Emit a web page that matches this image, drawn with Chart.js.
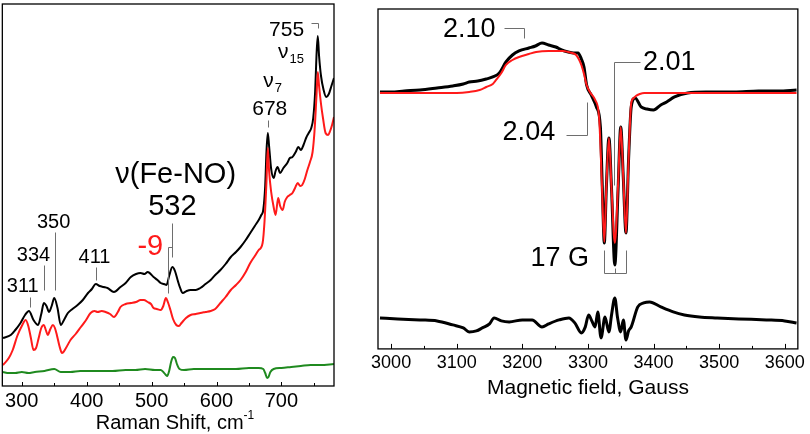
<!DOCTYPE html>
<html>
<head>
<meta charset="utf-8">
<script src="https://cdn.jsdelivr.net/npm/chart.js@4.4.0/dist/chart.umd.min.js"></script>
<style>
  body { margin:0; background:#fff; }
  #wrap { position:relative; width:810px; height:434px; }
  #raman { position:absolute; left:0; top:0; }
  #epr { position:absolute; left:360px; top:0; }
</style>
</head>
<body>
<div id="wrap">
  <canvas id="raman" width="340" height="434"></canvas>
  <canvas id="epr" width="450" height="434"></canvas>
</div>
<script>
const FONT = "'Liberation Sans', Arial, sans-serif";

// Raman panel (intensity in arbitrary units)
const ramanTicks = [300, 400, 500, 600, 700];
const ramanMinor = [350, 450, 550, 650, 750];

const blackShift = [271,283,290,298,305,311,318,325,330,334,338,342,346,350,355,360,365,371,378,386,394,402,408,414,420,426,432,442,452,460,468,476,483,489,494,503,509,514,519,523,527,532,536,540,544,548,554,560,568,575,583,591,598,606,614,622,630,637,645,652,659,665,669,672,675,677,679,681,684,688,691,694,698,703,709,713,717,722,726,730,734,738,742,746,749,752,754,756,758,761,765,769,773,777,781];
const blackInt   = [48,51,56,63,71,75,66,61,72,83,80,74,80,88,78,61,66,73,77,81,86,93,97,102,100,99,98,94,99,103,109,112,113,112,114,109,106,103,102,101,110,119,115,106,98,93,95,96,96,98,102,106,111,116,122,129,134,139,146,153,160,166,171,176,200,235,253,240,218,208,215,219,213,218,223,228,229,234,239,236,241,248,253,258,268,295,330,350,330,310,296,289,292,300,308];

const redShift = [271,280,286,293,300,306,310,314,318,322,326,330,334,337,340,344,348,351,354,358,362,368,375,383,391,398,406,412,417,423,429,436,442,448,452,460,468,476,483,488,494,499,503,508,514,518,522,525,529,533,538,542,546,553,560,568,575,583,591,598,606,614,622,630,637,645,652,659,665,671,674,677,679,681,684,688,691,695,698,702,705,709,713,717,721,725,729,732,736,740,744,748,751,754,756,758,761,764,768,772,775,778,781];
const redInt   = [21,28,36,50,60,66,60,48,36,38,48,58,61,56,51,57,61,58,51,40,33,38,46,52,59,65,73,75,74,75,74,72,69,74,79,82,83,84,86,86,84,82,78,77,76,80,88,84,76,67,61,60,63,68,71,72,73,74,75,77,83,89,96,101,106,114,123,130,136,143,165,205,238,215,195,179,171,188,180,176,184,189,191,193,198,203,200,201,207,216,224,234,255,290,314,300,282,268,253,251,255,261,269];

const greenShift = [271,280,290,300,310,320,335,350,360,375,390,405,420,440,460,475,490,505,514,518,522,524,527,530,533,536,539,543,550,565,590,610,630,650,665,672,675,678,680,683,688,700,715,730,745,760,781];
const greenInt   = [14,13,13,14,13,14,15,17,14,14,15,15,15,15,16,16,17,16,16,14,11,10,15,24,29,28,22,17,16,17,17,17,17,18,18,17,13,8,9,14,17,18,19,20,21,21,22];

// EPR panel (signal in arbitrary units)
const eprTicks = [3000, 3100, 3200, 3300, 3400, 3500, 3600];
const eprMinor = [3050, 3150, 3250, 3350, 3450, 3550];

const expField  = [2983,3000,3020,3044,3070,3094,3110,3119,3132,3145,3155,3165,3175,3185,3195,3210,3220,3230,3240,3251,3260,3270,3278,3285,3290,3294,3298,3305,3313,3319,3322,3325,3328,3332,3336,3341,3346,3350,3354,3358,3362,3366,3372,3381,3390,3400,3411,3420,3432,3452,3480,3523,3560,3590,3618];
const expSignal = [257,257,258,259,261,263,265,267,268,270,272,276,287,294,298,301,303,306,304,302,299,297,296,296,290,282,264,254,242,222,160,106,160,211,160,84,160,222,170,116,190,242,251,242,240,239,244,247,252,256,257,257,258,258,259];

const fitField  = [2983,3050,3100,3119,3135,3145,3155,3160,3168,3175,3185,3195,3210,3221,3240,3251,3262,3270,3276,3282,3286,3290,3294,3298,3304,3311,3317,3321,3325,3328,3332,3336,3341,3346,3350,3354,3358,3362,3366,3370,3373,3379,3386,3400,3500,3618];
const fitSignal = [256,256,256,257,259,262,265,269,276,284,289,292,295,297,298,298,298,297,296,294,290,284,275,264,256,249,232,170,107,160,211,160,106,165,222,170,116,190,246,251,253,255,256,256,256,256];

const diffField  = [2983,3010,3044,3070,3094,3110,3119,3130,3139,3150,3157,3168,3180,3200,3215,3230,3240,3256,3271,3280,3290,3296,3301,3306,3311,3315,3320,3326,3332,3336,3341,3345,3350,3354,3358,3362,3366,3376,3385,3394,3411,3430,3447,3470,3497,3530,3572,3600,3618];
const diffSignal = [31,30,29,28,24,21,17,18,21,25,31,28,27,29,29,22,25,29,31,26,16,22,34,28,22,37,11,32,17,34,51,32,17,29,9,18,22,42,46,47,42,37,34,32,31,30,29,28,26];

function pts(xs, ys) {
  return xs.map((v, i) => ({ x: v, y: ys[i] }));
}

function line(data, color, width) {
  return {
    data, borderColor: color, borderWidth: width,
    pointRadius: 0, cubicInterpolationMode: "monotone", fill: false
  };
}

// frame, inward ticks, leader lines and peak labels
function decor(cfg) {
  return {
    id: "decor",
    afterDatasetsDraw(chart) {
      const { ctx, chartArea: a, scales: { x, y } } = chart;
      ctx.save();
      ctx.strokeStyle = "#000";
      ctx.lineWidth = 1.3;
      ctx.strokeRect(a.left, a.top, a.right - a.left, a.bottom - a.top);

      ctx.lineWidth = 1;
      const tick = (v, len) => {
        const px = Math.round(x.getPixelForValue(v)) + 0.5;
        ctx.beginPath(); ctx.moveTo(px, a.bottom); ctx.lineTo(px, a.bottom - len); ctx.stroke();
      };
      cfg.major.forEach(v => tick(v, cfg.majorLen));
      cfg.minor.forEach(v => tick(v, cfg.minorLen));

      ctx.strokeStyle = "#6e6e6e";
      cfg.leaders.forEach(path => {
        ctx.beginPath();
        path.forEach(([vx, vy], i) => {
          const px = Math.round(x.getPixelForValue(vx)) + 0.5;
          const py = Math.round(y.getPixelForValue(vy)) + 0.5;
          i ? ctx.lineTo(px, py) : ctx.moveTo(px, py);
        });
        ctx.stroke();
      });

      ctx.textBaseline = "middle";
      cfg.labels.forEach(l => {
        const px = x.getPixelForValue(l.x), py = y.getPixelForValue(l.y);
        ctx.fillStyle = l.color || "#000";
        ctx.font = `${l.size}px ${FONT}`;
        ctx.textAlign = "center";
        ctx.fillText(l.text, px, py);
        if (l.sub) {
          const w = ctx.measureText(l.text).width;
          ctx.font = `${Math.round(l.size * 0.62)}px ${FONT}`;
          ctx.textAlign = "left";
          ctx.fillText(l.sub, px + w / 2 + 1, py + l.size * 0.35);
        }
      });

      if (cfg.title) {
        const t = cfg.title;
        ctx.fillStyle = "#000";
        ctx.font = `${t.size}px ${FONT}`;
        const w1 = ctx.measureText(t.text).width;
        ctx.font = `${Math.round(t.size * 0.62)}px ${FONT}`;
        const w2 = ctx.measureText(t.sup).width;
        const left = t.cx - (w1 + w2) / 2;
        ctx.textAlign = "left";
        ctx.font = `${t.size}px ${FONT}`;
        ctx.fillText(t.text, left, t.cy);
        ctx.font = `${Math.round(t.size * 0.62)}px ${FONT}`;
        ctx.fillText(t.sup, left + w1, t.cy - t.size * 0.38);
      }
      ctx.restore();
    }
  };
}

function xAxis(min, max, ticks, size, pad) {
  return {
    type: "linear", min, max,
    afterBuildTicks: s => { s.ticks = ticks.map(v => ({ value: v })); },
    grid: { display: false, drawTicks: false },
    border: { display: false },
    ticks: {
      color: "#000", font: { family: FONT, size, lineHeight: 1 },
      padding: pad, maxRotation: 0, callback: v => String(v)
    }
  };
}

new Chart(document.getElementById("raman"), {
  type: "line",
  data: {
    datasets: [
      line(pts(redShift, redInt), "#ff1a1a", 2),
      line(pts(blackShift, blackInt), "#000", 2),
      line(pts(greenShift, greenInt), "#1f8a1f", 2)
    ]
  },
  options: {
    responsive: false,
    animation: false,
    layout: { padding: { left: 2, right: 6, top: 4, bottom: 18 } },
    plugins: { legend: { display: false }, tooltip: { enabled: false } },
    scales: {
      x: xAxis(270, 781, ramanTicks, 20, 5),
      y: { display: false, min: 0, max: 382 }
    }
  },
  plugins: [decor({
    major: ramanTicks, minor: ramanMinor, majorLen: 4, minorLen: 3,
    leaders: [
      [[312, 89], [312, 79]],
      [[334, 121], [334, 96]],
      [[351, 154], [351, 96]],
      [[414, 119], [414, 106]],
      [[532, 163], [532, 129]],
      [[532, 139], [525, 139], [525, 93]],
      [[680, 266], [680, 259]],
      [[745, 363], [757, 363], [757, 358]]
    ],
    labels: [
      { text: "311", x: 301.5, y: 100, size: 20 },
      { text: "334", x: 318, y: 131, size: 20 },
      { text: "350", x: 349, y: 164, size: 20 },
      { text: "411", x: 412, y: 129, size: 20 },
      { text: "-9", x: 498, y: 139, size: 29, color: "#ff1a1a" },
      { text: "532", x: 532, y: 179, size: 29 },
      { text: "ν(Fe-NO)", x: 537, y: 211, size: 29 },
      { text: "678", x: 682, y: 277, size: 21 },
      { text: "ν", x: 680, y: 305, size: 21, sub: "7" },
      { text: "755", x: 708, y: 356, size: 21 },
      { text: "ν", x: 703, y: 334, size: 21, sub: "15" }
    ],
    title: { text: "Raman Shift, cm", sup: "-1", size: 20, cx: 175, cy: 423 }
  })]
});

new Chart(document.getElementById("epr"), {
  type: "line",
  data: {
    datasets: [
      line(pts(fitField, fitSignal), "#ff1a1a", 2),
      line(pts(expField, expSignal), "#000", 3),
      line(pts(diffField, diffSignal), "#000", 3)
    ]
  },
  options: {
    responsive: false,
    animation: false,
    layout: { padding: { left: 18, right: 8, top: 9, bottom: 34 } },
    plugins: { legend: { display: false }, tooltip: { enabled: false } },
    scales: {
      x: Object.assign(xAxis(2980, 3620, eprTicks, 18, 5), {
        title: {
          display: true, text: "Magnetic field, Gauss", color: "#000",
          font: { family: FONT, size: 21, lineHeight: 1.1 }, padding: { top: 0, bottom: 0 }
        }
      }),
      y: { display: false, min: 0, max: 340 }
    }
  },
  plugins: [decor({
    major: eprTicks, minor: eprMinor, majorLen: 5, minorLen: 3,
    leaders: [
      [[3172, 321], [3202, 321], [3202, 311]],
      [[3379, 287], [3340, 287], [3340, 164]],
      [[3267, 214], [3298, 214], [3298, 247]],
      [[3325, 99], [3325, 76], [3358, 76], [3358, 99]],
      [[3341, 81], [3341, 76]]
    ],
    labels: [
      { text: "2.10", x: 3119, y: 319, size: 27 },
      { text: "2.01", x: 3424, y: 286, size: 27 },
      { text: "2.04", x: 3210, y: 216, size: 27 },
      { text: "17 G", x: 3257, y: 90, size: 27 }
    ]
  })]
});
</script>
</body>
</html>
